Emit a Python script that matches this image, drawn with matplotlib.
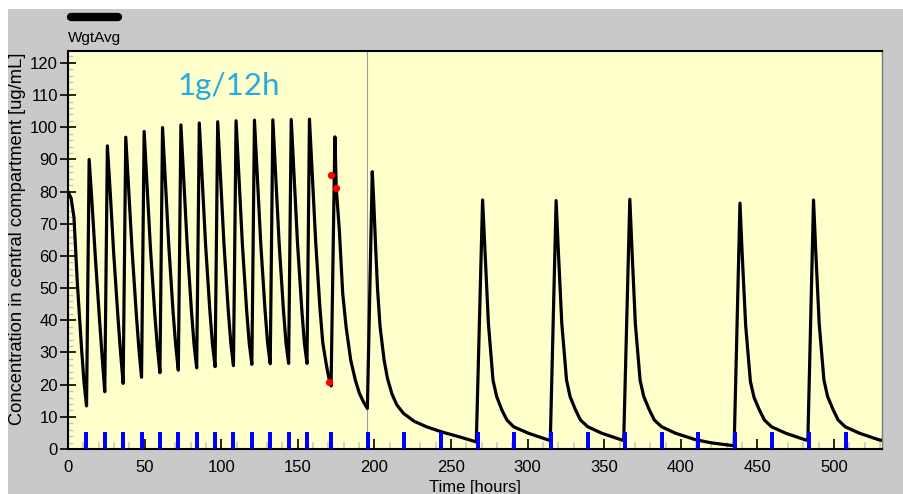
import matplotlib
matplotlib.use("Agg")
import matplotlib.pyplot as plt
from matplotlib.patches import Rectangle
from matplotlib.lines import Line2D
import numpy as np

plt.rcParams['font.family'] = ['Liberation Sans', 'DejaVu Sans']

# ---- data ----
# q12h phase (0 - 172 h)
t_q12 = [0.0, 2.0, 3.9, 6.1, 8.9, 10.5, 12.1,
         13.8, 15.6, 17.8, 20.6, 22.3, 24.0,
         25.7, 27.6, 29.8, 32.6, 34.3, 36.0,
         37.7, 39.6, 41.8, 44.6, 46.3, 48.0,
         49.7, 51.6, 53.8, 56.6, 58.3, 60.0,
         61.7, 63.6, 65.8, 68.6, 70.3, 72.0,
         73.7, 75.6, 77.8, 80.6, 82.3, 84.0,
         85.7, 87.6, 89.8, 92.6, 94.3, 96.0,
         97.7, 99.6, 101.8, 104.6, 106.3, 108.0,
         109.7, 111.6, 113.8, 116.6, 118.3, 120.0,
         121.7, 123.6, 125.8, 128.6, 130.3, 132.0,
         133.7, 135.6, 137.8, 140.6, 142.3, 144.0,
         145.7, 147.6, 149.8, 152.6, 154.3, 156.0,
         157.6, 159.5, 161.7, 164.5, 166.3, 168.5, 170.3, 171.7]
c_q12 = [80.0, 78.0, 72.0, 51.5, 30.8, 20.5, 13.4,
         90.0, 77.0, 60.0, 40.0, 28.5, 17.8,
         94.2, 79.5, 61.0, 41.0, 30.0, 20.4,
         96.9, 81.0, 62.0, 41.8, 31.0, 22.3,
         98.7, 82.0, 62.5, 42.2, 31.8, 23.7,
         99.9, 83.0, 63.0, 42.5, 32.2, 24.5,
         100.7, 83.5, 63.3, 42.7, 32.4, 25.2,
         101.3, 84.0, 63.5, 42.9, 32.6, 25.6,
         101.7, 84.3, 63.7, 43.0, 32.7, 25.9,
         102.0, 84.5, 63.8, 43.1, 32.8, 26.3,
         102.2, 84.7, 63.9, 43.2, 32.8, 26.5,
         102.3, 84.8, 64.0, 43.3, 32.9, 26.6,
         102.4, 84.9, 64.0, 43.3, 32.9, 26.6,
         102.5, 85.0, 64.1, 43.4, 33.0, 26.5, 22.0, 19.6]

# later phase (172 - 531 h)
t_late = [174.2, 175.1, 177.1, 179.3, 181.5, 184.5, 187.5, 190.2, 193.0, 195.4,
          198.6, 199.5, 200.6, 202.0, 203.7, 206.3, 208.5, 211.3, 214.5, 218.9, 226.0, 234.0, 244.0, 256.0, 266.5,
          270.6, 272.2, 274.4, 277.4, 279.8, 283.2, 286.5, 290.9, 300.5, 313.5, 314.8,
          318.6, 320.1, 322.3, 325.4, 327.7, 331.3, 334.5, 339.3, 348.4, 361.4, 362.7,
          366.7, 368.2, 370.3, 373.4, 375.8, 379.5, 382.7, 387.5, 396.5, 409.5, 420.0, 434.8,
          438.6, 440.1, 442.3, 445.4, 447.8, 451.4, 454.6, 459.2, 468.5, 481.5, 482.9,
          486.6, 488.1, 490.3, 493.4, 495.8, 499.5, 502.7, 507.3, 516.6, 529.6, 531.3]
c_late = [97.0, 81.0, 68.0, 48.4, 38.0, 27.7, 21.5, 17.3, 14.5, 12.6,
          86.2, 77.5, 65.0, 50.0, 38.0, 27.7, 22.0, 17.3, 13.8, 11.1, 8.6, 6.9, 5.3, 3.7, 2.2,
          77.4, 61.0, 39.0, 21.4, 16.3, 12.1, 9.0, 6.9, 4.9, 2.8, 2.6,
          77.2, 61.0, 39.0, 21.4, 16.3, 12.1, 9.0, 6.9, 4.9, 2.8, 2.6,
          77.6, 61.0, 39.0, 21.4, 16.3, 12.1, 9.0, 6.9, 4.9, 2.9, 1.9, 1.0,
          76.4, 60.0, 38.5, 21.0, 16.0, 12.0, 9.0, 6.9, 4.9, 2.8, 2.7,
          77.4, 61.0, 39.0, 21.4, 16.3, 12.1, 9.0, 6.9, 4.9, 2.8, 2.7]

# dose markers (blue bars)
dose_times = [12, 24, 36, 48, 60, 72, 84, 96, 108, 120, 132, 144, 156,
              171.7, 195.6, 219.5, 243.4, 267.4, 291.4, 315.3, 339.3, 363.3,
              387.4, 411.4, 435.4, 459.5, 483.6, 507.7]
dose_marker_height = 5.3

# observed concentrations (red dots)
obs_t = [171.4, 175.0, 170.4]
obs_c = [85.3, 81.0, 20.7]

vline_t = 195.0
annotation = "1g/12h"
legend_label = "WgtAvg"
xlabel = "Time [hours]"
ylabel = "Concentration in central compartment [ug/mL]"

# ---- figure ----
W, H = 904, 494
fig = plt.figure(figsize=(W / 100, H / 100), dpi=100, facecolor='white')
fig.patches.append(Rectangle((8 / W, 0), 1 - 8 / W, 1 - 9 / H, transform=fig.transFigure,
                             facecolor='#C9C9C9', edgecolor='none', zorder=-10))

ax = fig.add_axes([68 / W, 45 / H, 814 / W, 398 / H])
ax.set_facecolor('#FFFFCC')

t_all = np.array(t_q12 + t_late)
c_all = np.array(c_q12 + c_late)
ax.plot(t_all, c_all, color='black', lw=2.3, solid_joinstyle='round', zorder=3)
ax.axvline(vline_t, color='#9a9a9a', lw=0.8, zorder=2)
ax.bar(dose_times, [dose_marker_height] * len(dose_times), width=2.6, color='#0000FF',
       align='center', zorder=4)
ax.plot(obs_t, obs_c, 'o', color='#FF0000', ms=4.2, zorder=5)

ax.set_xlim(0, 531.3)
ax.set_ylim(0, 123.7)
ax.set_xticks(np.arange(0, 501, 50))
ax.set_xticks(np.arange(0, 531, 10), minor=True)
ax.set_yticks(np.arange(0, 121, 10))
ax.set_yticks(np.arange(0, 124, 2), minor=True)

ax.tick_params(axis='x', which='major', direction='in', length=7.5, width=1.2,
               color='black', labelsize=12, pad=8)
ax.tick_params(axis='x', which='minor', direction='in', length=5, width=1.2, color='#C8C8C8')
ax.tick_params(axis='y', which='major', direction='inout', length=11.5, width=1.2,
               color='black', labelsize=12, pad=1.5)
ax.tick_params(axis='y', which='minor', direction='in', length=3.5, width=1.0, color='#BFC3DD')

for s in ['left', 'bottom', 'top']:
    ax.spines[s].set_color('black')
    ax.spines[s].set_linewidth(1.5)
ax.spines['right'].set_color('#777777')
ax.spines['right'].set_linewidth(1.0)

ax.set_ylabel(ylabel, fontsize=13.2)
ax.yaxis.set_label_coords(-0.052, 0.528)
ax.set_xlabel(xlabel, fontsize=12)
ax.xaxis.set_label_coords(0.5, -0.079)

# legend swatch and label
fig.add_artist(Line2D([71 / W, 118 / W], [1 - 17 / H, 1 - 17 / H], transform=fig.transFigure,
                      color='black', lw=6, solid_capstyle='round'))
fig.text(68 / W, 1 - 38 / H, legend_label, fontsize=11, va='center', ha='left')

# annotation
fig.text(177 / W, 1 - 95 / H, annotation, fontsize=22.5, color='#27AAE1',
         family=['Lato', 'DejaVu Sans'], va='baseline', ha='left')

fig.savefig('out.png', dpi=100, facecolor=fig.get_facecolor())
